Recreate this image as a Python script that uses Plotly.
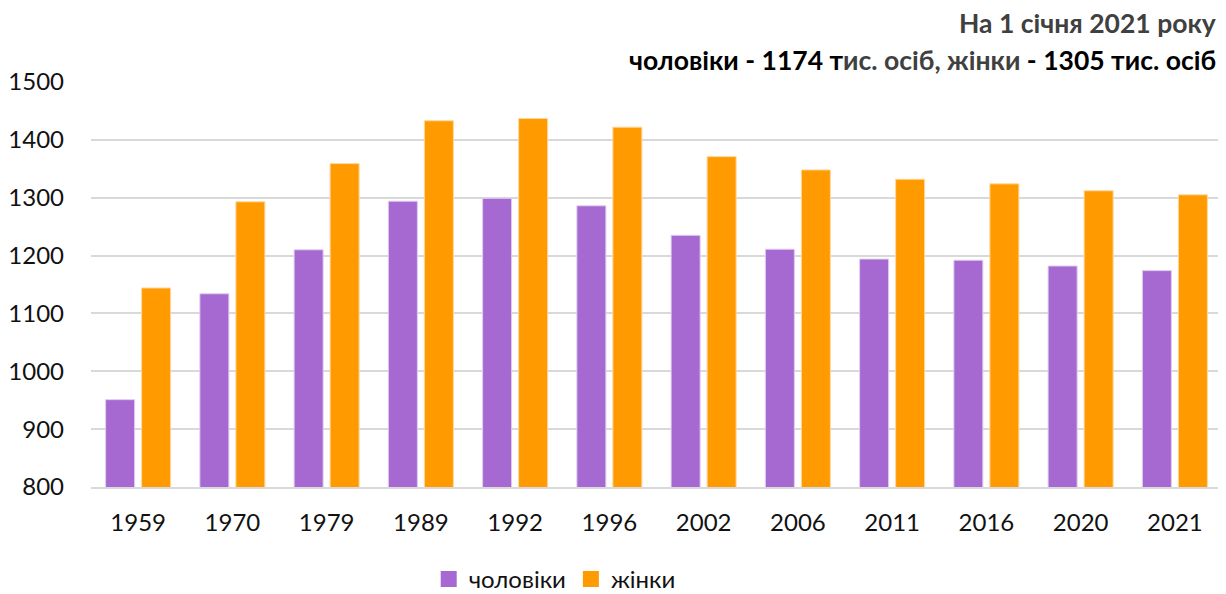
import plotly.graph_objects as go

years = ["1959", "1970", "1979", "1989", "1992", "1996", "2002", "2006", "2011", "2016", "2020", "2021"]
men = [951, 1134, 1210, 1294, 1299, 1286, 1235, 1211, 1194, 1192, 1182, 1174]
women = [1144, 1293, 1359, 1433, 1437, 1422, 1371, 1348, 1332, 1324, 1312, 1305]
y_ticks = [800, 900, 1000, 1100, 1200, 1300, 1400, 1500]
series_names = ["чоловіки", "жінки"]

FONT = "Lato"
MEN_COLOR = "#A569D1"
WOMEN_COLOR = "#FF9B00"

fig = go.Figure()
fig.add_trace(go.Bar(
    name=series_names[0], x=years, y=men, showlegend=False, legendgroup="m",
    marker=dict(color=MEN_COLOR, line=dict(color="rgba(225,205,240,1)", width=1)),
))
fig.add_trace(go.Bar(
    name=series_names[1], x=years, y=women, showlegend=False, legendgroup="w",
    marker=dict(color=WOMEN_COLOR, line=dict(color="rgba(255,215,160,1)", width=1)),
))
# legend entries with larger square swatches
for nm, col, grp in [(series_names[0], MEN_COLOR, "m"), (series_names[1], WOMEN_COLOR, "w")]:
    fig.add_trace(go.Scatter(
        name=nm, x=[None], y=[None], mode="markers", legendgroup=grp,
        marker=dict(symbol="square", size=16, color=col),
    ))

# page body has an 8px default margin -> figure sized to fit the remaining viewport
fig.update_layout(
    width=1218, height=586,
    margin=dict(l=83, r=4, t=74, b=107, autoexpand=False),
    paper_bgcolor="white", plot_bgcolor="white",
    barmode="group", bargap=0.236, bargroupgap=0.194,
    font=dict(family=FONT, size=24, color="#111111"),
    showlegend=True,
    legend=dict(orientation="h", x=0.41, xanchor="center", y=-0.228, yanchor="middle",
                font=dict(family=FONT, size=24, color="#111111"),
                traceorder="normal", itemwidth=30, tracegroupgap=0),
    xaxis=dict(showgrid=False, showline=True, linecolor="#D9D9D9", linewidth=2,
               ticks="", ticklabelstandoff=13, tickfont=dict(size=24)),
    yaxis=dict(range=[800, 1500], tickvals=y_ticks, showgrid=True, gridcolor="#D9D9D9",
               gridwidth=2, zeroline=False, showline=False, ticks="",
               ticklabelstandoff=26, tickfont=dict(size=24)),
)

fig.add_annotation(
    xref="paper", yref="paper", x=0.9965, y=1.145, xanchor="right", yanchor="middle",
    showarrow=False, text="На 1 січня 2021 року",
    font=dict(family=FONT, size=26.5, color="#404040", weight="bold"),
)
fig.add_annotation(
    xref="paper", yref="paper", x=0.9965, y=1.055, xanchor="right", yanchor="middle",
    showarrow=False,
    text=("<span style='color:#000000'>чоловіки - 1174 т</span>"
          "<span style='color:#404040'>ис. осіб, жінки </span>"
          "<span style='color:#000000'>- 1305 тис. осіб</span>"),
    font=dict(family=FONT, size=26.5, color="#000000", weight="bold"),
)

fig.write_html("out.html")
